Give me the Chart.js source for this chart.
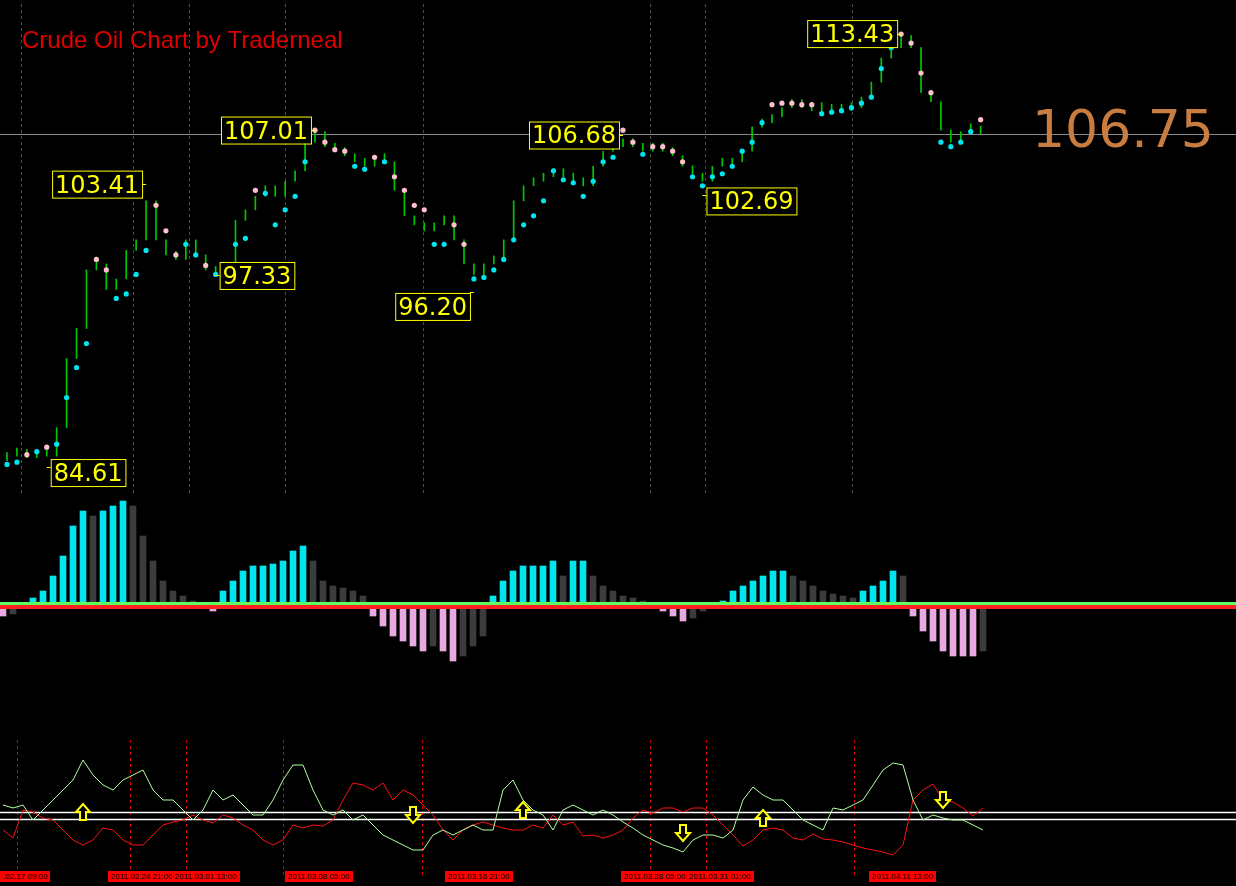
<!DOCTYPE html>
<html>
<head>
<meta charset="utf-8">
<script src="https://cdn.jsdelivr.net/npm/chart.js@4/dist/chart.umd.min.js"></script>
<style>
  body { margin: 0; background: #000; width: 1236px; height: 886px; overflow: hidden; position: relative; font-family: "Liberation Sans", Arial, sans-serif; }
  .pane { position: absolute; left: 0; width: 1236px; }
  .date { position: absolute; top: 871px; height: 11px; background: #f00; color: #000; font-size: 8px; line-height: 11px; padding: 0 3px; white-space: nowrap; }
</style>
</head>
<body>
<div class="pane" style="top:0;height:500px"><canvas id="price"></canvas></div>
<div class="pane" style="top:495px;height:175px"><canvas id="hist"></canvas></div>
<div class="pane" style="top:740px;height:135px"><canvas id="osc"></canvas></div>
<div class="date" style="left:0">.02.17 09:00</div>
<div class="date" style="left:108px">2011.02.24 21:00</div>
<div class="date" style="left:172px">2011.03.01 13:00</div>
<div class="date" style="left:285px">2011.03.08 05:00</div>
<div class="date" style="left:445px">2011.03.16 21:00</div>
<div class="date" style="left:621px">2011.03.28 05:00</div>
<div class="date" style="left:686px">2011.03.31 01:00</div>
<div class="date" style="left:869px">2011.04.11 13:00</div>
<script>
// Setup Block
const closes = [85.3,85.4,85.2,85.6,85.3,87.2,91.8,93.8,97.7,98.1,96.4,97.1,99.0,99.7,102.3,99.7,98.7,98.4,99.7,98.7,
  97.7,97.4,98.1,101.0,101.7,102.6,103.3,102.6,103.6,104.3,106.2,106.9,105.9,105.6,105.3,104.9,104.6,104.9,104.9,103.0,
  101.3,100.7,100.3,100.7,101.3,99.7,98.1,97.4,98.1,98.4,99.7,102.3,103.3,103.6,103.9,104.3,103.9,103.6,103.3,104.6,
  105.6,105.9,106.2,105.9,105.6,105.6,105.7,105.3,104.6,104.1,103.6,104.6,104.6,104.9,105.6,107.2,107.5,107.9,108.5,108.5,
  108.5,108.3,108.3,108.2,108.3,108.5,109.2,110.2,111.8,112.5,113.3,112.5,109.5,108.9,107.0,106.2,106.9,106.9,106.75];
const sar = [84.75,84.9,85.4,85.6,85.9,86.1,89.2,91.2,92.8,98.4,97.7,95.8,96.1,97.4,99.0,102.0,100.3,98.7,99.4,98.7,
  98.0,97.4,97.7,99.4,99.8,103.0,102.8,100.7,101.7,102.6,104.9,107.0,106.2,105.7,105.6,104.6,104.4,105.2,104.9,103.9,
  103.0,102.0,101.7,99.4,99.4,100.7,99.4,97.1,97.2,97.7,98.4,99.7,100.7,101.3,102.3,104.3,103.7,103.5,102.6,103.6,
  104.9,105.2,107.0,106.2,105.4,105.9,105.9,105.6,104.9,103.9,103.3,103.9,104.1,104.6,105.6,106.2,107.5,108.7,108.8,108.8,
  108.7,108.7,108.1,108.2,108.3,108.5,108.8,109.2,111.1,112.5,113.4,112.8,110.8,109.5,106.2,105.9,106.2,106.9,107.7];
const histValues = [-10,-8,3,8,15,30,50,80,95,90,95,100,105,100,70,45,25,15,10,5,
  0,-5,15,25,35,40,40,42,45,55,60,45,25,20,18,15,10,-10,-20,-30,
  -35,-40,-45,-40,-45,-55,-50,-40,-30,10,25,35,40,40,40,45,30,45,45,30,
  20,15,10,8,5,0,-5,-10,-15,-12,-5,3,5,15,20,25,30,35,35,30,
  25,20,15,12,10,8,15,20,25,35,30,-10,-25,-35,-45,-50,-50,-50,-45];
const oscGreen = [55,52,55,40,50,60,70,80,100,85,75,70,80,85,90,70,60,60,50,40,
  50,70,60,65,55,45,45,60,80,95,95,70,50,45,50,40,45,35,25,20,
  15,10,10,25,30,25,30,35,30,30,70,80,60,50,45,30,50,55,50,45,
  50,45,38,32,25,20,15,12,8,20,25,25,22,30,60,73,65,60,60,50,
  40,35,30,52,50,55,60,75,90,97,95,60,40,45,42,40,40,35,30];
const oscRed = [30,22,50,48,42,40,30,20,15,20,32,30,20,15,15,25,35,38,40,45,
  40,37,45,42,35,30,20,15,20,35,32,35,34,40,60,77,75,70,77,60,
  70,65,55,45,30,20,30,35,38,35,32,30,30,35,32,45,35,38,24,25,
  22,25,30,42,50,47,52,52,48,52,52,45,35,25,14,20,30,32,30,22,
  20,26,21,20,18,15,12,10,8,5,15,60,70,76,60,58,52,44,52];
const lastPrice = 106.75;
const priceLabels = [
  { i: 4, price: 84.61, text: "84.61", side: "right", dy: 6 },
  { i: 14, price: 103.41, text: "103.41", side: "left", dy: 0 },
  { i: 21, price: 97.33, text: "97.33", side: "right", dy: 0 },
  { i: 31, price: 107.01, text: "107.01", side: "left", dy: 0 },
  { i: 47, price: 96.20, text: "96.20", side: "left", dy: 14 },
  { i: 62, price: 106.68, text: "106.68", side: "left", dy: 0 },
  { i: 70, price: 102.69, text: "102.69", side: "right", dy: 6 },
  { i: 90, price: 113.43, text: "113.43", side: "left", dy: 0 }
];
const arrows = [
  { i: 8, v: 48, dir: "up" }, { i: 41, v: 45, dir: "down" }, { i: 52, v: 50, dir: "up" },
  { i: 68, v: 27, dir: "down" }, { i: 76, v: 42, dir: "up" }, { i: 94, v: 60, dir: "down" }
];
const separatorIdx = [1.4, 12.7, 18.3, 28, 41.9, 64.7, 70.3, 85.1];

const idx = closes.map((_, i) => i);
const xScale = { type: "linear", display: false, offset: false, min: -0.3, max: 123.3 };

const separators = {
  id: "separators",
  beforeDatasetsDraw(chart, args, opts) {
    const { ctx, chartArea, scales } = chart;
    ctx.save();
    ctx.strokeStyle = opts.color || "#5a0000";
    ctx.setLineDash([3, 3]);
    ctx.lineWidth = 1;
    separatorIdx.forEach(s => {
      const x = Math.round(scales.x.getPixelForValue(s)) + 0.5;
      ctx.beginPath(); ctx.moveTo(x, chartArea.top); ctx.lineTo(x, chartArea.bottom); ctx.stroke();
    });
    ctx.restore();
  }
};

const basePlugins = { legend: { display: false }, tooltip: { enabled: false } };

// Price pane
const priceOverlay = {
  id: "priceOverlay",
  beforeDatasetsDraw(chart) {
    const { ctx, scales } = chart;
    const y = Math.round(scales.y.getPixelForValue(lastPrice)) + 0.5;
    ctx.save();
    ctx.strokeStyle = "#8a8a8a"; ctx.lineWidth = 1;
    ctx.beginPath(); ctx.moveTo(0, y); ctx.lineTo(1236, y); ctx.stroke();
    ctx.restore();
  },
  afterDatasetsDraw(chart) {
    const { ctx, scales } = chart;
    ctx.save();
    ctx.fillStyle = "#e00000";
    ctx.font = "24px 'Liberation Sans', Arial";
    ctx.textBaseline = "alphabetic";
    ctx.fillText("Crude Oil Chart by Traderneal", 22, 48);
    ctx.fillStyle = "#c87c40";
    ctx.font = "52px 'DejaVu Sans', sans-serif";
    ctx.fillText(lastPrice.toFixed(2), 1032, 147);
    ctx.font = "24px 'DejaVu Sans', sans-serif";
    priceLabels.forEach(l => {
      const px = scales.x.getPixelForValue(l.i);
      const py = scales.y.getPixelForValue(l.price);
      const w = ctx.measureText(l.text).width + 6, h = 27;
      const bx = l.side === "left" ? px - w - 4 : px + 4;
      const by = py - h / 2 + l.dy;
      ctx.fillStyle = "#000"; ctx.fillRect(bx, by, w, h);
      ctx.strokeStyle = "#ffff00"; ctx.lineWidth = 1;
      ctx.strokeRect(bx + 0.5, by + 0.5, w, h);
      ctx.beginPath();
      ctx.moveTo(l.side === "left" ? bx + w : bx, Math.round(py) + 0.5);
      ctx.lineTo(px, Math.round(py) + 0.5); ctx.stroke();
      ctx.fillStyle = "#ffff00";
      ctx.fillText(l.text, bx + 3, by + h - 5);
    });
    ctx.restore();
  }
};

new Chart(document.getElementById("price"), {
  data: {
    datasets: [
      {
        type: "scatter",
        data: idx.map(i => ({ x: i, y: sar[i] })),
        pointRadius: 2.6, borderWidth: 0,
        backgroundColor: sar.map((s, i) => s > closes[i] ? "#ffc0cb" : "#00e5ee")
      },
      {
        type: "bar",
        data: idx.map(i => ({ x: i, y: [i ? closes[i - 1] : closes[0] - 0.3, closes[i]] })),
        backgroundColor: "#00c800", barThickness: 1, borderSkipped: false, minBarLength: 8
      }
    ]
  },
  options: {
    responsive: true, maintainAspectRatio: false, animation: false,
    layout: { padding: 0 },
    scales: { x: xScale, y: { display: false, min: 82.65, max: 115.4 } },
    plugins: { ...basePlugins, separators: { color: "#4a4a4a" } }
  },
  plugins: [separators, priceOverlay]
});

// Histogram pane
const zeroLines = {
  id: "zeroLines",
  afterDatasetsDraw(chart) {
    const { ctx, scales } = chart;
    const y = scales.y.getPixelForValue(0);
    ctx.save();
    ctx.fillStyle = "#60ff60"; ctx.fillRect(0, y - 4, 1236, 3);
    ctx.fillStyle = "#ff2020"; ctx.fillRect(0, y - 1, 1236, 4);
    ctx.restore();
  }
};
new Chart(document.getElementById("hist"), {
  type: "bar",
  data: {
    datasets: [{
      data: idx.map(i => ({ x: i, y: histValues[i] })),
      barThickness: 6,
      backgroundColor: histValues.map((v, i) => {
        const p = i ? histValues[i - 1] : v;
        if (v > 0 && v >= p) return "#00e5ee";
        if (v < 0 && v <= p) return "#e8a8e0";
        return "rgba(150,150,150,0.4)";
      })
    }]
  },
  options: {
    responsive: true, maintainAspectRatio: false, animation: false,
    scales: { x: xScale, y: { display: false, min: -64, max: 111 } },
    plugins: basePlugins
  },
  plugins: [zeroLines]
});

// Oscillator pane
const oscOverlay = {
  id: "oscOverlay",
  beforeDatasetsDraw(chart) {
    const { ctx, scales } = chart;
    ctx.save();
    ctx.strokeStyle = "#fff"; ctx.lineWidth = 1.5;
    [48, 41].forEach(v => {
      const y = Math.round(scales.y.getPixelForValue(v)) + 0.5;
      ctx.beginPath(); ctx.moveTo(0, y); ctx.lineTo(1236, y); ctx.stroke();
    });
    ctx.restore();
  },
  afterDatasetsDraw(chart) {
    const { ctx, scales } = chart;
    ctx.save();
    ctx.strokeStyle = "#ffff00"; ctx.lineWidth = 2; ctx.fillStyle = "#000";
    arrows.forEach(a => {
      const x = scales.x.getPixelForValue(a.i), y = scales.y.getPixelForValue(a.v);
      const s = a.dir === "up" ? -1 : 1;
      ctx.beginPath();
      ctx.moveTo(x - 3, y - s * 8); ctx.lineTo(x - 3, y); ctx.lineTo(x - 7, y);
      ctx.lineTo(x, y + s * 8); ctx.lineTo(x + 7, y); ctx.lineTo(x + 3, y);
      ctx.lineTo(x + 3, y - s * 8); ctx.closePath();
      ctx.fill(); ctx.stroke();
    });
    ctx.restore();
  }
};
new Chart(document.getElementById("osc"), {
  type: "line",
  data: {
    datasets: [
      { data: idx.map(i => ({ x: i, y: oscGreen[i] })), borderColor: "#b0ffa0", borderWidth: 1, pointRadius: 0, tension: 0 },
      { data: idx.map(i => ({ x: i, y: oscRed[i] })), borderColor: "#ff1010", borderWidth: 1, pointRadius: 0, tension: 0 }
    ]
  },
  options: {
    responsive: true, maintainAspectRatio: false, animation: false,
    scales: { x: xScale, y: { display: false, min: -15, max: 120 } },
    plugins: { ...basePlugins, separators: { color: "#e00000" } }
  },
  plugins: [separators, oscOverlay]
});
</script>
</body>
</html>
